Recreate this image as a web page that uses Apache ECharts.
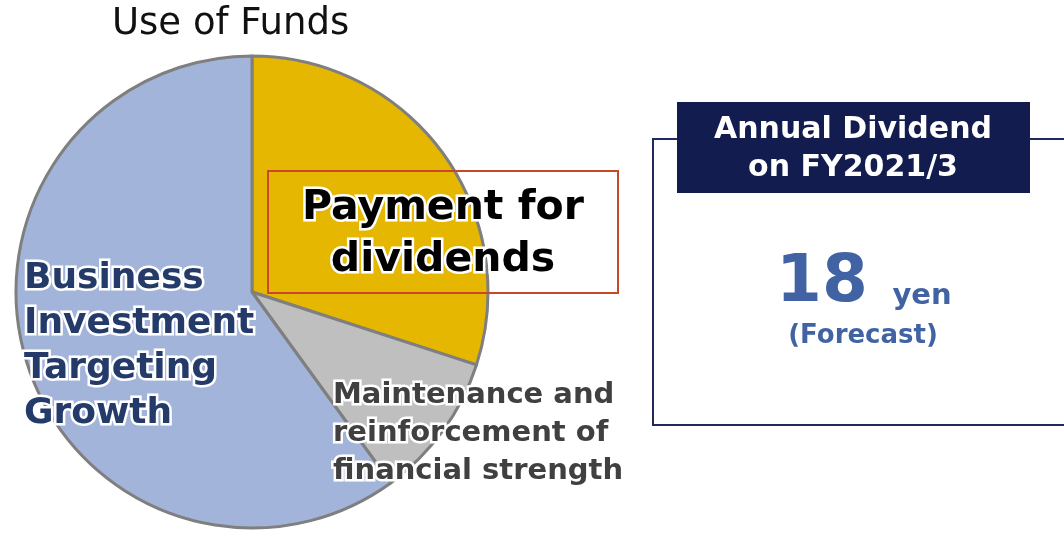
<!DOCTYPE html>
<html>
<head>
<meta charset="utf-8">
<script src="https://cdn.jsdelivr.net/npm/echarts@6/dist/echarts.min.js"></script>
<style>
  html, body { margin: 0; padding: 0; background: #fff; }
  #chart { width: 1064px; height: 542px; }
</style>
</head>
<body>
<div id="chart"></div>
<script>
// slices, clockwise from 12 o'clock
const sliceNames = ["Payment for dividends", "Maintenance and reinforcement of financial strength", "Business Investment Targeting Growth"];
const sliceValues = [30, 10, 60];
const sliceColors = ["#E6B700", "#BFBFBF", "#A2B4DA"];

const titleText = "Use of Funds";
const dividendHead = ["Annual Dividend", "on FY2021/3"];
const dividendValue = "18";
const dividendUnit = "yen";
const dividendNote = "(Forecast)";

const font = "DejaVu Sans";
const chart = echarts.init(document.getElementById("chart"), null, { renderer: "canvas" });

const glow = (fill, size, weight) => ({
  fill: fill,
  font: weight + " " + size + "px '" + font + "'",
  stroke: "#fff",
  lineWidth: 5,
});

chart.setOption({
  animation: false,
  series: [
    {
      type: "pie",
      center: [252, 292],
      radius: 236,
      startAngle: 90,
      clockwise: true,
      silent: true,
      z: 1,
      label: { show: false },
      labelLine: { show: false },
      itemStyle: { borderColor: "#7F7F7F", borderWidth: 3 },
      data: sliceNames.map((n, i) => ({
        name: n,
        value: sliceValues[i],
        itemStyle: { color: sliceColors[i] },
      })),
    },
  ],
  graphic: {
    elements: [
      {
        type: "text",
        left: 112, top: 6, z: 100,
        style: { text: titleText, fill: "#111", font: "normal 37px '" + font + "'" },
      },
      // dividends label box
      {
        type: "rect", z: 100,
        shape: { x: 268, y: 171, width: 350, height: 122 },
        style: { fill: "none", stroke: "#C9472B", lineWidth: 2 },
      },
      {
        type: "text", z: 100,
        x: 443, y: 234,
        style: Object.assign(glow("#000", 41, "bold"), {
          text: "Payment for\ndividends", align: "center", verticalAlign: "middle", lineHeight: 52,
        }),
      },
      {
        type: "text", z: 100,
        x: 24, y: 346,
        style: Object.assign(glow("#243B6A", 36, "bold"), {
          text: "Business\nInvestment\nTargeting\nGrowth", verticalAlign: "middle", lineHeight: 45,
        }),
      },
      {
        type: "text", z: 100,
        x: 333, y: 433,
        style: Object.assign(glow("#404040", 29, "bold"), {
          text: "Maintenance and\nreinforcement of\nfinancial strength", verticalAlign: "middle", lineHeight: 38,
        }),
      },
      // dividend panel
      {
        type: "rect", z: 100,
        shape: { x: 653, y: 139, width: 420, height: 286 },
        style: { fill: "#fff", stroke: "#1F2A5E", lineWidth: 2 },
      },
      {
        type: "rect", z: 101,
        shape: { x: 677, y: 102, width: 353, height: 91 },
        style: { fill: "#121C4E" },
      },
      {
        type: "text", z: 102,
        x: 853, y: 149,
        style: {
          text: dividendHead.join("\n"), fill: "#fff", align: "center", verticalAlign: "middle",
          font: "bold 30px '" + font + "'", lineHeight: 38,
        },
      },
      {
        type: "text", z: 102,
        x: 822, y: 284,
        style: { text: dividendValue, fill: "#4263A3", align: "center", verticalAlign: "middle", font: "bold 66px '" + font + "'" },
      },
      {
        type: "text", z: 102,
        x: 922, y: 296,
        style: { text: dividendUnit, fill: "#4263A3", align: "center", verticalAlign: "middle", font: "bold 29px '" + font + "'" },
      },
      {
        type: "text", z: 102,
        x: 863, y: 336,
        style: { text: dividendNote, fill: "#4263A3", align: "center", verticalAlign: "middle", font: "bold 26px '" + font + "'" },
      },
    ],
  },
});
</script>
</body>
</html>
